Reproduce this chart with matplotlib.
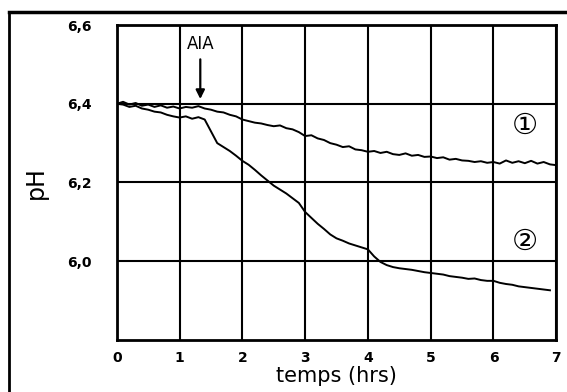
import matplotlib
matplotlib.use("Agg")
import matplotlib.pyplot as plt
from matplotlib.lines import Line2D

# ---- data ----
t1 = [round(0.1 * i, 1) for i in range(71)]
ph1 = [6.400, 6.405, 6.398, 6.402, 6.395, 6.398, 6.392, 6.396, 6.390, 6.393,
       6.388, 6.392, 6.390, 6.394, 6.388, 6.385, 6.380, 6.378, 6.372, 6.368,
       6.360, 6.356, 6.352, 6.350, 6.346, 6.343, 6.345, 6.338, 6.335, 6.328,
       6.318, 6.320, 6.312, 6.308, 6.300, 6.296, 6.290, 6.292, 6.284, 6.282,
       6.278, 6.280, 6.275, 6.278, 6.272, 6.270, 6.274, 6.268, 6.270, 6.265,
       6.266, 6.262, 6.264, 6.258, 6.260, 6.256, 6.255, 6.252, 6.254, 6.250,
       6.252, 6.248, 6.256, 6.250, 6.254, 6.249, 6.255, 6.248, 6.252, 6.246,
       6.244]
t2 = [round(0.1 * i, 1) for i in range(70)]
ph2 = [6.400, 6.398, 6.392, 6.395, 6.388, 6.385, 6.380, 6.378, 6.372, 6.368,
       6.365, 6.368, 6.362, 6.366, 6.360, 6.330, 6.300, 6.290, 6.280, 6.268,
       6.255, 6.245, 6.232, 6.218, 6.205, 6.192, 6.182, 6.172, 6.160, 6.148,
       6.125, 6.110, 6.095, 6.082, 6.068, 6.058, 6.052, 6.045, 6.040, 6.035,
       6.030, 6.012, 5.998, 5.990, 5.985, 5.982, 5.980, 5.978, 5.975, 5.972,
       5.970, 5.968, 5.966, 5.962, 5.960, 5.958, 5.955, 5.956, 5.952, 5.950,
       5.950, 5.945, 5.942, 5.940, 5.936, 5.934, 5.932, 5.930, 5.928, 5.926]
xticks = [0, 1, 2, 3, 4, 5, 6, 7]
yticks = [6.0, 6.2, 6.4, 6.6]
ytick_labels = ["6,0", "6,2", "6,4", "6,6"]

fig = plt.figure(figsize=(5.67, 3.92), dpi=100)
ax = fig.add_axes([0.206, 0.133, 0.775, 0.803])

ax.plot(t1, ph1, color="black", lw=1.4)
ax.plot(t2, ph2, color="black", lw=1.4)

ax.set_xlim(0, 7)
ax.set_ylim(5.8, 6.6)
ax.set_xticks(xticks)
ax.set_xticklabels([str(x) for x in xticks], fontweight="bold", fontsize=10)
ax.set_yticks(yticks)
ax.set_yticklabels(ytick_labels, fontweight="bold", fontsize=10)
ax.tick_params(axis="x", length=0, pad=8)
ax.tick_params(axis="y", length=0, pad=18)
ax.grid(True, color="black", lw=1.5)
ax.set_axisbelow(True)
for s in ax.spines.values():
    s.set_linewidth(2)
    s.set_color("black")

ax.set_ylabel("pH", fontsize=17, labelpad=14)
ax.set_xlabel("temps (hrs)", fontsize=15, labelpad=1)

ax.annotate("", xy=(1.33, 6.405), xytext=(1.33, 6.52),
            arrowprops=dict(arrowstyle="-|>", color="black", lw=1.6, mutation_scale=13))
ax.text(1.33, 6.53, "AIA", ha="center", va="bottom", fontsize=12)
ax.text(6.5, 6.345, "\u2460", ha="center", va="center", fontsize=21)
ax.text(6.5, 6.05, "\u2461", ha="center", va="center", fontsize=21)

# outer frame of the scan
fig.add_artist(Line2D([0.016, 1.0], [0.97, 0.97], transform=fig.transFigure, color="black", lw=2.5))
fig.add_artist(Line2D([0.016, 0.016], [0.0, 0.97], transform=fig.transFigure, color="black", lw=2))

fig.savefig("out.png", dpi=100)
